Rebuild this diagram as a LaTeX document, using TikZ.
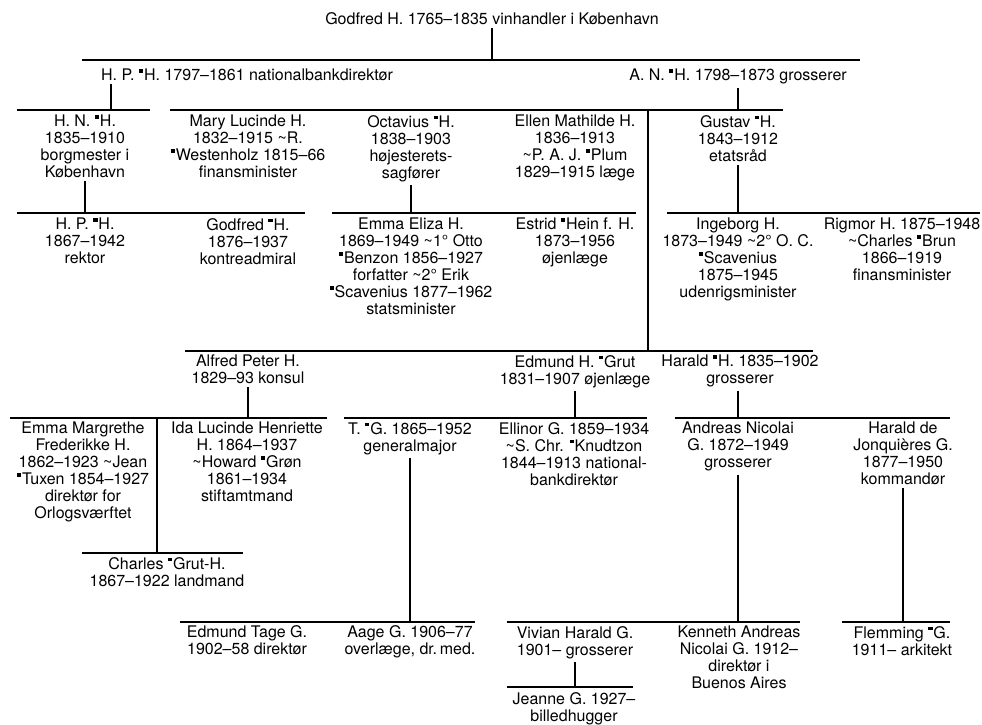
\documentclass[tikz,border=0pt]{standalone}
\usepackage{fontspec}
\setmainfont{TeX Gyre Heros}
\usepackage{tikz}
\usetikzlibrary{calc}

% henvisningsmærke og "gift med"
\newcommand{\hv}{\raisebox{0.5em}{\rule{0.26em}{0.22em}}\kern0.06em}
\newcommand{\gift}{\textasciitilde}

\begin{document}
\begin{tikzpicture}[
  x=1pt, y=-1pt,
  person/.style={anchor=north, align=center, inner sep=0pt,
                 font=\fontsize{16}{17}\selectfont},
  link/.style={line width=1.1pt, black},
  drop/.style={link, shorten <=3pt}
]
  \useasboundingbox (0,0) rectangle (982,724);

  % Stamfar og sønner
  \node[person] (godfred) at (492,12)  {Godfred H. 1765–1835 vinhandler i København};
  \node[person] (hp)      at (247,69)  {H. P. \hv H. 1797–1861 nationalbankdirektør};
  \node[person] (an)      at (738,69)  {A. N. \hv H. 1798–1873 grosserer};

  % Børnebørn
  \node[person] (hn)       at (85,115)  {H. N. \hv H.\\1835–1910\\borgmester i\\København};
  \node[person] (mary)     at (248,115) {Mary Lucinde H.\\1832–1915 \gift R.\\\hv Westenholz 1815–66\\finansminister};
  \node[person] (octavius) at (411,115) {Octavius \hv H.\\1838–1903\\højesterets-\\sagfører};
  \node[person] (ellen)    at (575,115) {Ellen Mathilde H.\\1836–1913\\\gift P. A. J. \hv Plum\\1829–1915 læge};
  \node[person] (gustav)   at (738,115) {Gustav \hv H.\\1843–1912\\etatsråd};

  \node[person] (hpjr)     at (85,218)  {H. P. \hv H.\\1867–1942\\rektor};
  \node[person] (godfrjr)  at (248,218) {Godfred \hv H.\\1876–1937\\kontreadmiral};
  \node[person] (emmae)    at (411,218) {Emma Eliza H.\\1869–1949 \gift 1° Otto\\\hv Benzon 1856–1927\\forfatter \gift 2° Erik\\\hv Scavenius 1877–1962\\statsminister};
  \node[person] (estrid)   at (575,218) {Estrid \hv Hein f. H.\\1873–1956\\øjenlæge};
  \node[person] (ingeborg) at (738,218) {Ingeborg H.\\1873–1949 \gift 2° O. C.\\\hv Scavenius\\1875–1945\\udenrigsminister};
  \node[person] (rigmor)   at (902,218) {Rigmor H. 1875–1948\\\gift Charles \hv Brun\\1866–1919\\finansminister};

  % A. N.s øvrige sønner
  \node[person] (alfred)  at (248,355) {Alfred Peter H.\\1829–93 konsul};
  \node[person] (edmund)  at (575,355) {Edmund H. \hv Grut\\1831–1907 øjenlæge};
  \node[person] (harald)  at (740,355) {Harald \hv H. 1835–1902\\grosserer};

  \node[person] (emmam)    at (83,422)  {Emma Margrethe\\Frederikke H.\\1862–1923 \gift Jean\\\hv Tuxen 1854–1927\\direktør for\\Orlogsværftet};
  \node[person] (ida)      at (247,422) {Ida Lucinde Henriette\\H. 1864–1937\\\gift Howard \hv Grøn\\1861–1934\\stiftamtmand};
  \node[person] (tg)       at (410,422) {T. \hv G. 1865–1952\\generalmajor};
  \node[person] (ellinor)  at (574,422) {Ellinor G. 1859–1934\\\gift S. Chr. \hv Knudtzon\\1844–1913 national-\\bankdirektør};
  \node[person] (andreas)  at (738,422) {Andreas Nicolai\\G. 1872–1949\\grosserer};
  \node[person] (haraldj)  at (903,422) {Harald de\\Jonquières G.\\1877–1950\\kommandør};

  \node[person] (charles)  at (167,557) {Charles \hv Grut-H.\\1867–1922 landmand};

  \node[person] (tage)     at (247,625) {Edmund Tage G.\\1902–58 direktør};
  \node[person] (aage)     at (410,625) {Aage G. 1906–77\\overlæge, dr.\,med.};
  \node[person] (vivian)   at (575,626) {Vivian Harald G.\\1901– grosserer};
  \node[person] (kenneth)  at (739,626) {Kenneth Andreas\\Nicolai G. 1912–\\direktør i\\Buenos Aires};
  \node[person] (flemming) at (902,626) {Flemming \hv G.\\1911– arkitekt};
  \node[person] (jeanne)   at (574,692) {Jeanne G. 1927–\\billedhugger};

  % Søskendestreger
  \coordinate (godL)  at (82,60);   \coordinate (godR)  at (860,60);
  \coordinate (hpL)   at (17,110);  \coordinate (hpR)   at (150,110);
  \coordinate (anL)   at (170,110); \coordinate (anR)   at (783,110);
  \coordinate (hnL)   at (17,213);  \coordinate (hnR)   at (305,213);
  \coordinate (octL)  at (332,213); \coordinate (octR)  at (636,213);
  \coordinate (gusL)  at (667,213); \coordinate (gusR)  at (980,213);
  \coordinate (an2L)  at (185,351); \coordinate (an2R)  at (813,351);
  \coordinate (alfL)  at (10,418);  \coordinate (alfR)  at (327,418);
  \coordinate (edmL)  at (344,418); \coordinate (edmR)  at (647,418);
  \coordinate (harL)  at (675,418); \coordinate (harR)  at (950,418);
  \coordinate (alf2L) at (82,553);  \coordinate (alf2R) at (243,553);
  \coordinate (tgL)   at (180,622); \coordinate (tgR)   at (475,622);
  \coordinate (andL)  at (507,622); \coordinate (andR)  at (800,622);
  \coordinate (hdjL)  at (842,622); \coordinate (hdjR)  at (950,622);
  \coordinate (vivL)  at (507,687); \coordinate (vivR)  at (633,687);

  \foreach \b in {god,hp,an,hn,oct,gus,an2,alf,edm,har,alf2,tg,and,hdj,viv}
    \draw[link] (\b L) -- (\b R);

  % Nedstigning
  \draw[drop] (godfred.south) -- (godfred.south |- godL);
  \draw[drop] ([xshift=-136pt]hp.south) coordinate (hpd) -- (hpd |- hpL);
  \draw[drop] (an.south) -- (an.south |- anL);
  \draw[drop] (hn.south) -- (hn.south |- hnL);
  \draw[drop] (octavius.south) -- (octavius.south |- octL);
  \draw[drop] (gustav.south) -- (gustav.south |- gusL);
  \coordinate (an2top) at (648,110);
  \draw[link] (an2top) -- (an2top |- an2L);
  \draw[drop] (alfred.south) -- (alfred.south |- alfL);
  \draw[drop] (edmund.south) -- (edmund.south |- edmL);
  \draw[drop] ([xshift=-2pt]harald.south) coordinate (hard) -- (hard |- harL);
  \coordinate (alf2top) at (157,418);
  \draw[link] (alf2top) -- (alf2top |- alf2L);
  \draw[drop] (tg.south) -- (tg.south |- tgL);
  \draw[drop] (andreas.south) -- (andreas.south |- andL);
  \draw[drop] (haraldj.south) -- (haraldj.south |- hdjL);
  \draw[drop] (vivian.south) -- (vivian.south |- vivL);
\end{tikzpicture}
\end{document}
